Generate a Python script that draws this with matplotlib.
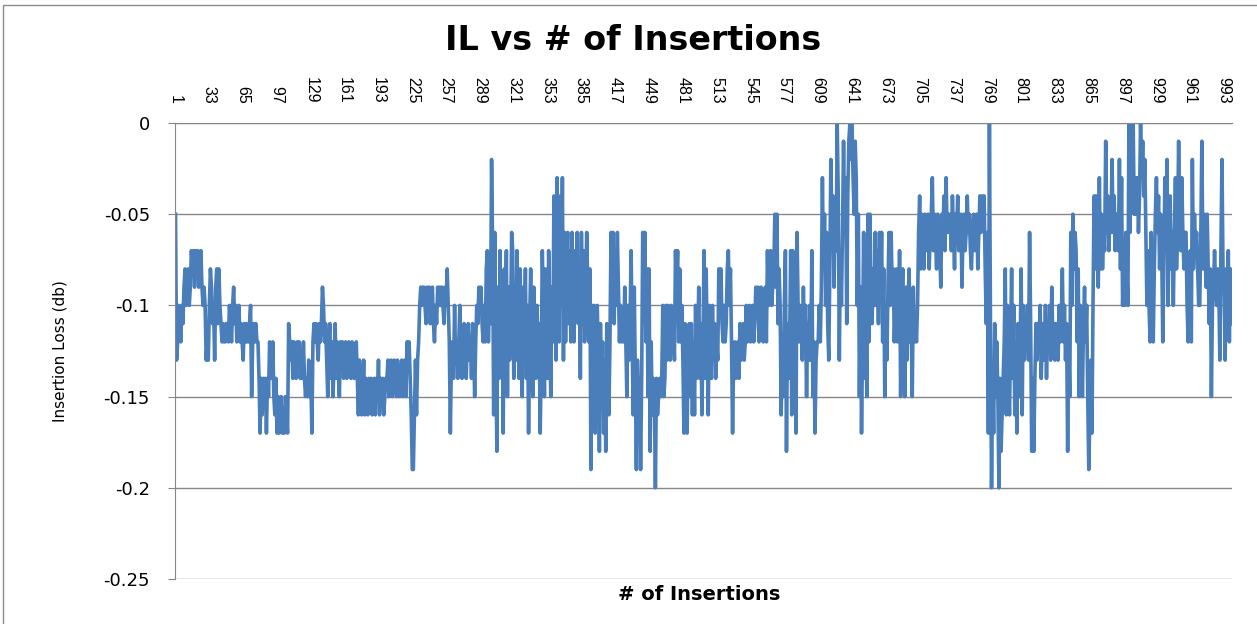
import numpy as np
import matplotlib.pyplot as plt
from matplotlib.patches import Rectangle

# insertion loss readings, in hundredths of a dB, 100 insertions per list
il_001_100 = [-5, -13, -12, -10, -11, -12, -10, -11, -9, -8,
              -10, -9, -8, -10, -9, -7, -8, -7, -9, -7,
              -8, -7, -9, -8, -7, -9, -10, -9, -10, -13,
              -12, -13, -10, -8, -9, -11, -10, -13, -9, -8,
              -11, -8, -10, -11, -12, -11, -12, -12, -11, -11,
              -12, -10, -11, -12, -10, -9, -11, -10, -12, -11,
              -10, -12, -11, -12, -13, -11, -12, -11, -12, -12,
              -11, -10, -15, -12, -11, -12, -11, -12, -12, -14,
              -17, -14, -16, -14, -15, -14, -17, -14, -15, -12,
              -13, -14, -12, -15, -16, -14, -17, -15, -17, -16]
il_101_200 = [-15, -17, -16, -17, -15, -16, -17, -11, -12, -13,
              -12, -14, -12, -13, -14, -12, -13, -12, -14, -13,
              -14, -12, -14, -15, -14, -15, -13, -15, -14, -17,
              -12, -11, -12, -11, -12, -13, -11, -12, -11, -9,
              -10, -12, -11, -13, -15, -12, -11, -14, -12, -15,
              -13, -11, -14, -12, -13, -15, -12, -13, -12, -14,
              -13, -12, -14, -13, -12, -13, -14, -12, -13, -14,
              -13, -12, -14, -16, -13, -14, -16, -15, -13, -16,
              -14, -15, -16, -14, -15, -14, -16, -15, -14, -16,
              -14, -15, -13, -16, -14, -15, -14, -16, -15, -14]
il_201_300 = [-14, -13, -15, -14, -13, -15, -14, -13, -14, -15,
              -13, -14, -15, -14, -13, -15, -14, -13, -15, -12,
              -13, -12, -14, -16, -19, -19, -16, -13, -16, -13,
              -12, -10, -9, -10, -9, -9, -10, -11, -9, -10,
              -9, -11, -10, -9, -11, -12, -10, -11, -9, -10,
              -9, -10, -9, -10, -11, -9, -10, -8, -10, -12,
              -17, -13, -12, -14, -10, -13, -12, -14, -12, -10,
              -13, -14, -12, -11, -13, -14, -12, -11, -13, -12,
              -14, -11, -12, -15, -12, -10, -11, -9, -10, -9,
              -11, -12, -10, -12, -8, -7, -12, -9, -11, -2]
il_301_400 = [-7, -16, -6, -12, -18, -9, -14, -7, -13, -10,
              -17, -8, -12, -7, -15, -9, -13, -11, -6, -7,
              -14, -9, -13, -7, -11, -14, -8, -12, -15, -9,
              -12, -8, -14, -10, -17, -11, -8, -13, -15, -9,
              -12, -14, -10, -13, -11, -17, -13, -7, -10, -15,
              -8, -12, -14, -7, -11, -15, -9, -12, -4, -8,
              -13, -3, -9, -12, -4, -10, -3, -13, -6, -12,
              -8, -6, -11, -7, -12, -6, -9, -12, -7, -10,
              -6, -11, -8, -14, -6, -11, -7, -12, -10, -6,
              -9, -12, -8, -19, -10, -12, -10, -17, -11, -10]
il_401_500 = [-13, -18, -11, -15, -12, -17, -13, -18, -11, -14,
              -16, -12, -6, -9, -6, -11, -7, -10, -6, -9,
              -12, -10, -12, -11, -12, -9, -12, -15, -10, -13,
              -11, -7, -12, -16, -9, -14, -19, -13, -15, -14,
              -19, -14, -6, -9, -6, -12, -8, -15, -8, -18,
              -12, -16, -14, -15, -20, -14, -16, -15, -14, -15,
              -14, -10, -15, -14, -10, -13, -10, -11, -13, -10,
              -12, -11, -13, -7, -9, -7, -12, -8, -12, -10,
              -13, -17, -11, -14, -17, -12, -11, -15, -11, -16,
              -12, -16, -10, -14, -12, -9, -14, -11, -16, -12]
il_501_600 = [-7, -14, -8, -12, -16, -10, -12, -14, -10, -13,
              -11, -14, -12, -13, -8, -10, -8, -11, -12, -10,
              -12, -11, -8, -7, -10, -8, -12, -17, -13, -12,
              -14, -13, -12, -14, -11, -13, -12, -11, -13, -12,
              -10, -12, -11, -10, -12, -11, -10, -12, -11, -9,
              -10, -9, -12, -10, -9, -11, -12, -10, -9, -12,
              -7, -10, -8, -7, -10, -9, -8, -5, -9, -5,
              -11, -8, -10, -16, -12, -15, -10, -7, -18, -11,
              -14, -12, -7, -16, -7, -12, -10, -17, -6, -10,
              -12, -10, -11, -13, -9, -12, -10, -15, -11, -13]
il_601_700 = [-10, -13, -7, -15, -12, -17, -13, -12, -12, -10,
              -12, -9, -3, -8, -5, -10, -6, -11, -13, -8,
              -2, -6, -4, -9, -5, -7, 0, -4, -13, -7,
              -10, -6, -1, -6, -3, -11, -4, -1, 0, -2,
              0, -3, -5, -1, -3, -10, -5, -15, -9, -17,
              -12, -6, -14, -10, -15, -5, -12, -5, -9, -11,
              -8, -10, -6, -10, -7, -11, -6, -9, -6, -12,
              -8, -15, -10, -13, -9, -6, -10, -6, -9, -8,
              -12, -10, -8, -12, -11, -7, -15, -10, -8, -12,
              -15, -9, -13, -10, -8, -12, -11, -15, -9, -12]
il_701_800 = [-11, -12, -10, -6, -4, -8, -5, -6, -8, -5,
              -7, -6, -5, -8, -6, -5, -3, -7, -5, -6,
              -8, -5, -6, -7, -9, -5, -6, -4, -7, -3,
              -6, -5, -6, -5, -7, -4, -6, -8, -5, -6,
              -4, -7, -6, -5, -9, -6, -5, -7, -6, -4,
              -6, -5, -7, -8, -6, -5, -7, -6, -5, -8,
              -6, -4, -6, -4, -5, -4, -8, -11, -6, -17,
              0, -11, -20, -14, -17, -11, -15, -12, -15, -20,
              -14, -18, -16, -14, -12, -8, -16, -10, -14, -16,
              -12, -8, -14, -10, -16, -12, -17, -11, -15, -13]
il_801_900 = [-8, -16, -10, -13, -11, -12, -10, -13, -6, -11,
              -18, -14, -18, -14, -11, -13, -11, -12, -10, -14,
              -12, -11, -13, -10, -14, -11, -12, -10, -13, -9,
              -12, -11, -13, -11, -12, -13, -10, -12, -11, -8,
              -12, -10, -13, -11, -18, -12, -15, -6, -10, -5,
              -8, -6, -7, -12, -8, -15, -10, -12, -15, -11,
              -9, -12, -10, -15, -19, -16, -13, -17, -10, -4,
              -8, -4, -6, -9, -3, -8, -5, -8, -6, -7,
              -1, -6, -4, -7, -5, -6, -2, -6, -4, -7,
              -5, -6, -7, -2, -8, -3, -10, -8, -10, -6]
il_901_1000 = [-8, -10, 0, -6, -1, -4, 0, -5, -3, -5,
               -3, -6, -4, 0, -3, -1, -4, -2, -6, -10,
               -7, -10, -12, -6, -10, -12, -8, -5, -3, -6,
               -4, -8, -5, -7, -12, -8, -3, -6, -2, -10,
               -6, -4, -8, -6, -10, -6, -3, -8, -6, -1,
               -5, -7, -3, -6, -8, -6, -6, -10, -12, -8,
               -7, -12, -2, -8, -5, -7, -6, -8, -10, -10,
               -6, -1, -8, -5, -7, -9, -5, -8, -11, -8,
               -15, -10, -9, -7, -9, -10, -8, -9, -13, -7,
               -2, -8, -9, -13, -8, -10, -7, -12, -8, -11]

x_ticks = list(range(1, 1001, 32))
y_ticks = [0, -0.05, -0.1, -0.15, -0.2, -0.25]
y_labels = ['0', '-0.05', '-0.1', '-0.15', '-0.2', '-0.25']

loss = np.array(il_001_100 + il_101_200 + il_201_300 + il_301_400 + il_401_500
                + il_501_600 + il_601_700 + il_701_800 + il_801_900 + il_901_1000) / 100
insertions = np.arange(1, len(loss) + 1)

W, H = 1257, 624
fig = plt.figure(figsize=(W / 100, H / 100), dpi=100)
ax = fig.add_axes([175 / W, 1 - 579 / H, (1232 - 175) / W, (579 - 123) / H])

ax.plot(insertions, loss, color='#4A7EBB', lw=2.6, solid_joinstyle='round')

ax.set_xlim(0.5, 1000.5)
ax.set_ylim(-0.25, 0)
ax.set_yticks(y_ticks)
ax.set_yticklabels(y_labels, fontsize=13, family='Liberation Sans Narrow')
ax.xaxis.tick_top()
ax.set_xticks(x_ticks)
ax.set_xticklabels([str(t) for t in x_ticks], rotation=270, ha='center', va='bottom',
                   fontsize=11.5, family='Liberation Sans')
ax.tick_params(axis='x', length=0, pad=14)
ax.tick_params(axis='y', length=5, color='#878787', pad=13)
ax.yaxis.grid(True, color='#878787', lw=1)
ax.set_axisbelow(True)
for side in ['bottom', 'right']:
    ax.spines[side].set_visible(False)
for side in ['top', 'left']:
    ax.spines[side].set_color('#878787')

fig.text(633 / W, 1 - 40 / H, 'IL vs # of Insertions', ha='center', va='center',
         fontsize=24, fontweight='bold', family='DejaVu Sans')
fig.text(60 / W, 1 - 351 / H, 'Insertion Loss (db)', rotation=90, ha='center', va='center',
         fontsize=11, family='Liberation Sans Narrow')
fig.text(699 / W, 1 - 594 / H, '# of Insertions', ha='center', va='center',
         fontsize=14, fontweight='bold', family='DejaVu Sans')

fig.patches.append(Rectangle((3 / W, -0.1), 1.2, 1.1 - 5 / H, transform=fig.transFigure,
                             fill=False, edgecolor='#8c8c8c', lw=1))

fig.savefig('out.png', dpi=100)
